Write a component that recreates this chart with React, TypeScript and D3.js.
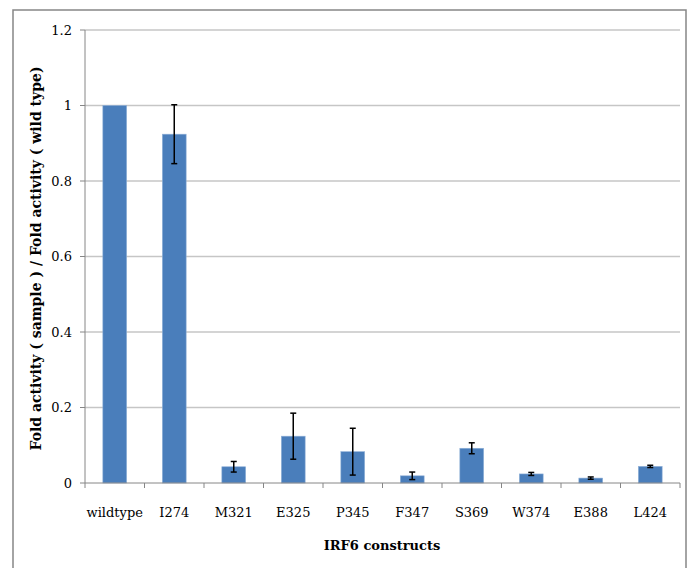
import React from "react";
import * as d3 from "d3";

const categories = ["wildtype", "I274", "M321", "E325", "P345", "F347", "S369", "W374", "E388", "L424"];
const values = [1.0, 0.924, 0.043, 0.124, 0.083, 0.019, 0.092, 0.024, 0.013, 0.044];
const errors = [0, 0.078, 0.014, 0.061, 0.062, 0.01, 0.0145, 0.004, 0.003, 0.003];
const yTicks = [0, 0.2, 0.4, 0.6, 0.8, 1, 1.2];

const W = 693, H = 568;
const left = 85, right = 680, top = 30, bottom = 483;
const font = "'Century Schoolbook', 'DejaVu Serif', 'Liberation Serif', serif";

export default function App() {
  const x = d3.scaleBand<string>().domain(categories).range([left, right]).paddingInner(0.6).paddingOuter(0.3);
  const band = (right - left) / categories.length;
  const y = d3.scaleLinear().domain([0, 1.2]).range([bottom, top]);
  const tickXs = d3.range(categories.length + 1).map((i) => left + i * band);
  return (
    <div style={{ position: "absolute", left: 0, top: 0 }}>
      <svg width={W} height={H} style={{ display: "block", background: "#fff" }}>
        <rect x={13} y={10} width={673} height={580} fill="#fff" stroke="#868686" strokeWidth={1.5} />
        {yTicks.map((t) => (
          <g key={t}>
            {t > 0 && <line x1={left} x2={right} y1={y(t)} y2={y(t)} stroke="#c6c6c6" strokeWidth={1.3} />}
            <line x1={left - 5} x2={left} y1={y(t)} y2={y(t)} stroke="#868686" strokeWidth={1} />
            <text x={72} y={y(t)} dy="0.35em" textAnchor="end" fontFamily={font} fontSize={13} fill="#000">
              {String(t)}
            </text>
          </g>
        ))}
        {categories.map((c, i) => (
          <rect key={c} x={x(c)!} width={x.bandwidth()} y={y(values[i])} height={bottom - y(values[i])} fill="#4a7ebb" stroke="#8fb0d8" strokeWidth={0.6} />
        ))}
        {categories.map((c, i) =>
          errors[i] > 0 ? (
            <g key={"e" + c} stroke="#000" strokeWidth={1.5}>
              <line x1={x(c)! + x.bandwidth() / 2} x2={x(c)! + x.bandwidth() / 2} y1={y(values[i] + errors[i])} y2={y(values[i] - errors[i])} />
              <line x1={x(c)! + x.bandwidth() / 2 - 3} x2={x(c)! + x.bandwidth() / 2 + 3} y1={y(values[i] + errors[i])} y2={y(values[i] + errors[i])} />
              <line x1={x(c)! + x.bandwidth() / 2 - 3} x2={x(c)! + x.bandwidth() / 2 + 3} y1={y(values[i] - errors[i])} y2={y(values[i] - errors[i])} />
            </g>
          ) : null
        )}
        <line x1={left} x2={left} y1={top} y2={bottom} stroke="#868686" strokeWidth={1} />
        <line x1={left} x2={right} y1={bottom} y2={bottom} stroke="#868686" strokeWidth={1} />
        {tickXs.map((tx, i) => (
          <line key={i} x1={tx} x2={tx} y1={bottom} y2={bottom + 5} stroke="#868686" strokeWidth={1} />
        ))}
        {categories.map((c) => (
          <text key={"l" + c} x={x(c)! + x.bandwidth() / 2} y={517} textAnchor="middle" fontFamily={font} fontSize={13} fill="#000">
            {c}
          </text>
        ))}
        <text x={382} y={550} textAnchor="middle" fontFamily={font} fontSize={13} fontWeight="bold" fill="#000">
          IRF6 constructs
        </text>
        <text transform={`translate(41, ${(top + bottom) / 2 + 2}) rotate(-90)`} textAnchor="middle" fontFamily={font} fontSize={14} fontWeight="bold" fill="#000">
          Fold activity ( sample ) / Fold activity ( wild type)
        </text>
      </svg>
    </div>
  );
}
